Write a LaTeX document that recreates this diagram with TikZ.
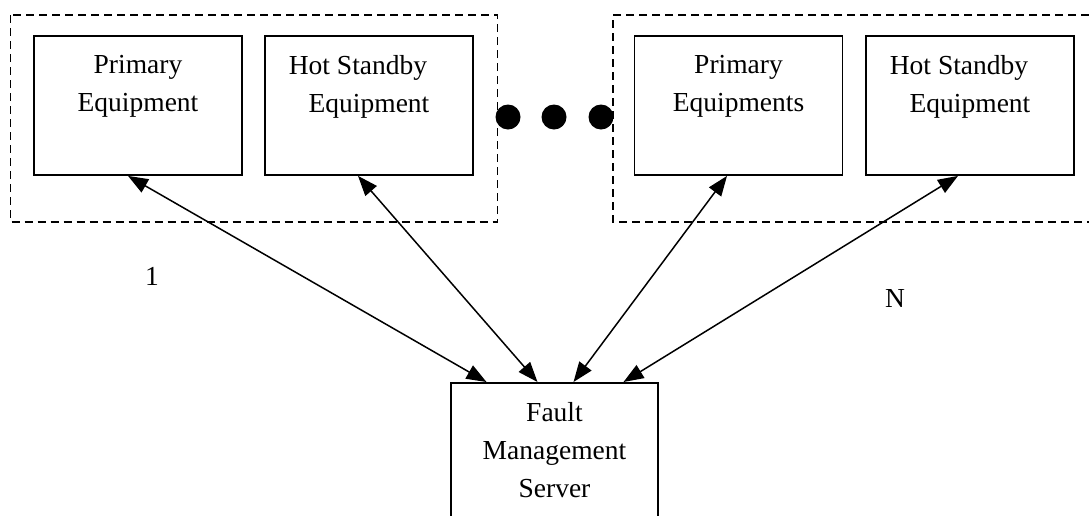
\documentclass[tikz,border=0pt]{standalone}
\usepackage{fontspec}
\setmainfont{Liberation Serif}
\usetikzlibrary{arrows.meta}
\begin{document}
\begin{tikzpicture}[x=1pt, y=-1pt,
  txt/.style={font=\fontsize{27.5}{38}\selectfont, align=center, inner sep=0pt},
  equip/.style={draw, line width=1.8pt, minimum width=208pt, minimum height=139pt, inner sep=0pt},
  grp/.style={draw, dash pattern=on 8pt off 5pt, line width=1.7pt},
  link/.style={line width=1.5pt, {Triangle[length=20pt,width=15pt]}-{Triangle[length=20pt,width=15pt]}},
  dot/.style={circle, fill, inner sep=0pt, minimum size=25pt},
  boxtext/.style={label={[txt, anchor=north, yshift=-20pt]north:{#1}}}]
  \useasboundingbox (0,0) rectangle (1089,515);

  % equipment groups
  \draw[grp] (10.5,15) rectangle (497.5,222);
  \draw[grp] (1089,15) -- (613,15) -- (613,222) -- (1089,222);

  % equipment boxes
  \node[equip, boxtext={Primary\\Equipment}] (b1) at (138,105.5) {};
  \node[equip, boxtext={Hot Standby\hspace*{22pt}\\Equipment}] (b2) at (369,105.5) {};
  \node[equip, boxtext={Primary\\Equipments}] (b3) at (738.5,105.5) {};
  \node[equip, boxtext={Hot Standby\hspace*{22pt}\\Equipment}] (b4) at (970,105.5) {};

  % ellipsis between groups
  \node[dot] (d1) at (508,117) {};
  \node[dot] (d2) at (554,117) {};
  \node[dot] (d3) at (601,117) {};

  % server
  \node[equip, minimum width=207pt, minimum height=170pt, anchor=north,
        boxtext={Fault\\Management\\Server}] (srv) at (554.5,382) {};

  % group labels
  \node[txt] (n1) at (152,276) {1};
  \node[txt] (nN) at (895,298) {N};

  % links
  \draw[link] ([xshift=-10pt]b1.south) -- ([xshift=-68pt]srv.north);
  \draw[link] ([xshift=-11pt]b2.south) -- ([xshift=-17pt]srv.north);
  \draw[link] ([xshift=-11.5pt]b3.south) -- ([xshift=19pt]srv.north);
  \draw[link] ([xshift=-12pt]b4.south) -- ([xshift=69pt]srv.north);
\end{tikzpicture}
\end{document}
